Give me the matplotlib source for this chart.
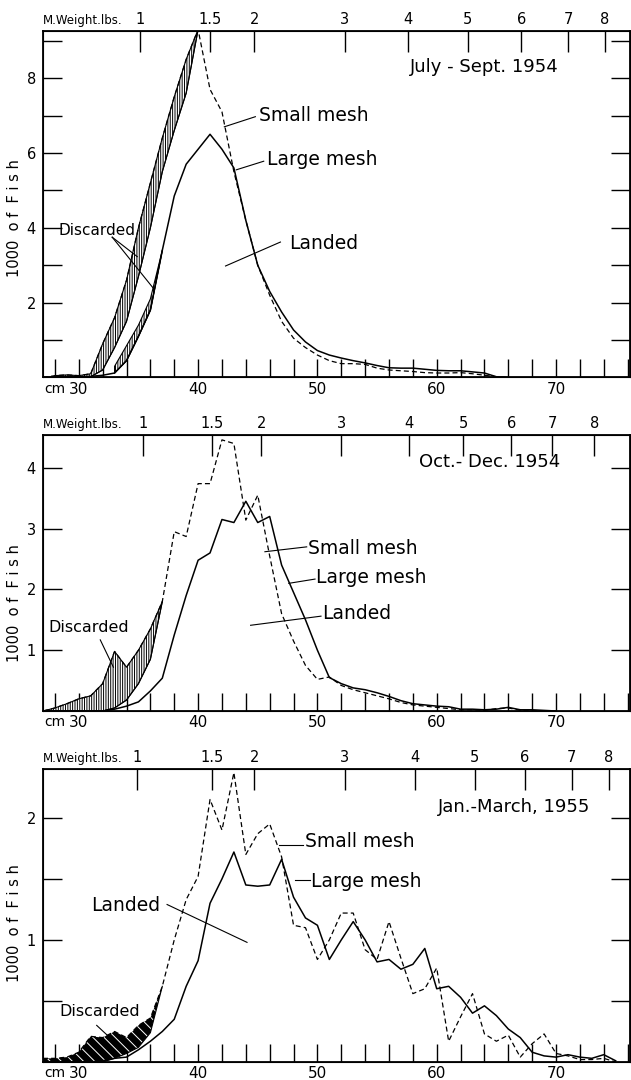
import matplotlib
matplotlib.use("Agg")
import matplotlib.pyplot as plt
import numpy as np

plt.rcParams['font.family'] = ['DejaVu Sans']
plt.rcParams['hatch.linewidth'] = 0.7

# numbers of fish (thousands) per 1 cm length group
# --- July - Sept. 1954 ---
cm1 = np.arange(27, 67)
small1 = [0.0, 0.05, 0.07, 0.05, 0.1, 0.9, 1.6, 2.6, 4.0, 5.2,
          6.4, 7.5, 8.5, 9.3, 7.7, 7.1, 5.5, 4.2, 3.0, 2.2,
          1.5, 1.05, 0.8, 0.6, 0.45, 0.37, 0.37, 0.35, 0.25, 0.2,
          0.18, 0.16, 0.13, 0.12, 0.12, 0.13, 0.1, 0.06, 0.02, 0.0]
large1 = [0.0, 0.02, 0.03, 0.02, 0.03, 0.06, 0.12, 0.45, 1.1, 1.8,
          3.4, 4.85, 5.7, 6.1, 6.5, 6.1, 5.6, 4.2, 3.0, 2.3,
          1.75, 1.27, 0.95, 0.72, 0.6, 0.52, 0.45, 0.39, 0.32, 0.26,
          0.25, 0.25, 0.22, 0.19, 0.18, 0.18, 0.15, 0.12, 0.02, 0.0]
# discarded part of the small mesh catch (band between total and landed)
disc1_cm = np.arange(28, 41)
disc1_top = [0.05, 0.07, 0.05, 0.1, 0.9, 1.6, 2.6, 4.0, 5.2, 6.4, 7.5, 8.5, 9.3]
disc1_bot = [0.0, 0.0, 0.0, 0.02, 0.2, 0.8, 1.5, 2.7, 4.0, 5.5, 6.6, 7.6, 9.3]
# discarded part of the large mesh catch
disc1b_cm = np.arange(33, 38)
disc1b_top = [0.3, 0.85, 1.4, 2.1, 3.4]
disc1b_bot = [0.12, 0.45, 1.1, 1.8, 3.4]

# --- Oct. - Dec. 1954 ---
cm2 = np.arange(27, 71)
small2 = [0.0, 0.05, 0.12, 0.2, 0.25, 0.45, 0.98, 0.72, 1.0, 1.35,
          1.8, 2.95, 2.87, 3.74, 3.74, 4.46, 4.40, 3.14, 3.55, 2.55,
          1.6, 1.15, 0.75, 0.52, 0.56, 0.42, 0.35, 0.3, 0.25, 0.2,
          0.14, 0.1, 0.08, 0.06, 0.04, 0.02, 0.02, 0.01, 0.04, 0.05,
          0.01, 0.0, 0.0, 0.0]
large2 = [0.0, 0.0, 0.0, 0.0, 0.0, 0.0, 0.03, 0.08, 0.15, 0.33,
          0.54, 1.25, 1.9, 2.48, 2.6, 3.15, 3.1, 3.45, 3.1, 3.2,
          2.4, 1.95, 1.5, 1.0, 0.55, 0.45, 0.38, 0.35, 0.3, 0.24,
          0.17, 0.12, 0.1, 0.08, 0.07, 0.03, 0.03, 0.02, 0.03, 0.06,
          0.02, 0.02, 0.01, 0.0]
disc2_cm = np.arange(27, 38)
disc2_top = [0.0, 0.05, 0.12, 0.2, 0.25, 0.45, 0.98, 0.72, 1.0, 1.35, 1.8]
disc2_bot = [0.0, 0.0, 0.0, 0.0, 0.0, 0.0, 0.05, 0.18, 0.45, 0.85, 1.8]

# --- Jan. - March 1955 ---
cm3 = np.arange(27, 76)
small3 = [0.03, 0.03, 0.04, 0.08, 0.21, 0.2, 0.25, 0.2, 0.3, 0.36,
          0.62, 1.0, 1.33, 1.52, 2.15, 1.9, 2.37, 1.70, 1.87, 1.95,
          1.68, 1.12, 1.1, 0.84, 1.0, 1.22, 1.22, 0.92, 0.84, 1.15,
          0.85, 0.56, 0.6, 0.77, 0.17, 0.37, 0.56, 0.23, 0.17, 0.22,
          0.04, 0.15, 0.23, 0.07, 0.05, 0.02, 0.02, 0.03, 0.0]
large3 = [0.0, 0.0, 0.0, 0.0, 0.0, 0.01, 0.03, 0.04, 0.1, 0.17,
          0.25, 0.35, 0.62, 0.83, 1.3, 1.5, 1.72, 1.45, 1.44, 1.45,
          1.66, 1.35, 1.18, 1.12, 0.84, 1.0, 1.15, 1.0, 0.82, 0.84,
          0.76, 0.8, 0.93, 0.6, 0.62, 0.53, 0.4, 0.46, 0.38, 0.27,
          0.2, 0.08, 0.05, 0.04, 0.06, 0.04, 0.03, 0.06, 0.01]
disc3_cm = np.arange(27, 38)
disc3_top = [0.03, 0.03, 0.04, 0.08, 0.21, 0.2, 0.25, 0.2, 0.3, 0.36, 0.62]
disc3_bot = [0.0, 0.0, 0.0, 0.0, 0.0, 0.0, 0.03, 0.07, 0.12, 0.24, 0.62]

# mean weight scale (lbs) along the top, positions in cm as drawn
wt_labels = ['1', '1.5', '2', '3', '4', '5', '6', '7', '8']
wt_pos1 = [35.15, 41.0, 44.7, 52.3, 57.6, 62.6, 67.1, 71.0, 74.1]
wt_pos2 = [35.4, 41.15, 45.3, 52.0, 57.7, 62.2, 66.25, 69.7, 73.2]
wt_pos3 = [34.9, 41.15, 44.7, 52.3, 58.2, 63.2, 67.4, 71.3, 74.4]

W, H = 631, 1080
fig = plt.figure(figsize=(W / 100, H / 100), dpi=100)


def box(top, bot):
    return [43 / W, 1 - bot / H, (630 - 43) / W, (bot - top) / H]


def leader(ax, x1, y1, x2, y2):
    ax.plot([x1, x2], [y1, y2], color='black', lw=0.8, clip_on=False)


panels = [
    dict(box=box(31, 377.5), cm=cm1, small=small1, large=large1, ymax=9.26,
         yticks=[2, 4, 6, 8], yminor=[1, 3, 5, 7, 9], wt=wt_pos1,
         bands=[(disc1_cm, disc1_top, disc1_bot), (disc1b_cm, disc1b_top, disc1b_bot)],
         dark=False, ylab_y=218),
    dict(box=box(435, 711), cm=cm2, small=small2, large=large2, ymax=4.54,
         yticks=[1, 2, 3, 4], yminor=[], wt=wt_pos2,
         bands=[(disc2_cm, disc2_top, disc2_bot)], dark=False, ylab_y=603),
    dict(box=box(769, 1062), cm=cm3, small=small3, large=large3, ymax=2.40,
         yticks=[1, 2], yminor=[0.5, 1.5], wt=wt_pos3,
         bands=[(disc3_cm, disc3_top, disc3_bot)], dark=True, ylab_y=923),
]

axes = []
for p in panels:
    ax = fig.add_axes(p['box'])
    for bcm, btop, bbot in p['bands']:
        if p['dark']:
            ax.fill_between(bcm, bbot, btop, facecolor='black', edgecolor='white',
                            hatch='\\\\\\', linewidth=0, zorder=2)
        else:
            ax.fill_between(bcm, bbot, btop, facecolor='white', edgecolor='black',
                            hatch='|||||||', linewidth=0.8, zorder=2)
        ax.plot(bcm, bbot, color='black', lw=0.8, zorder=3)
    ax.plot(p['cm'], p['large'], color='black', lw=1.1, zorder=4)
    ax.plot(p['cm'], p['small'], color='black', lw=0.9, ls=(0, (4, 2.5)), zorder=4)

    ax.set_xlim(27.0, 76.2)
    ax.set_ylim(0, p['ymax'])
    xt = np.arange(28, 77, 2)
    ax.set_xticks(xt)
    ax.set_xticklabels([str(v) if v % 10 == 0 else '' for v in xt])
    ax.tick_params(axis='x', direction='in', length=13, width=1, pad=3, labelsize=11)
    ax.set_yticks(p['yticks'])
    ax.set_yticklabels([str(v) for v in p['yticks']])
    ax.set_yticks(p['yminor'], minor=True)
    ax.tick_params(axis='y', which='both', direction='in', length=14, width=1,
                   left=True, right=True, labelsize=10.5, pad=5)
    for s in ax.spines.values():
        s.set_linewidth(1.3)

    top = ax.twiny()
    top.set_xlim(ax.get_xlim())
    top.set_xticks(p['wt'])
    top.set_xticklabels(wt_labels)
    top.tick_params(axis='x', direction='in', length=15, width=1, pad=3, labelsize=10.5)

    ax.annotate('cm', xy=(0, 0), xycoords='axes fraction', xytext=(1, -3),
                textcoords='offset points', ha='left', va='top', fontsize=10)
    ax.annotate('M.Weight.lbs.', xy=(0, 1), xycoords='axes fraction', xytext=(0, 3),
                textcoords='offset points', ha='left', va='bottom', fontsize=8.5)
    fig.text(15 / W, 1 - p['ylab_y'] / H, '1000  o f  F i s h', rotation=90,
             ha='center', va='center', fontsize=10.5)
    axes.append(ax)

ax1, ax2, ax3 = axes

# July - Sept. 1954
ax1.text(64.0, 8.3, 'July - Sept. 1954', ha='center', va='center', fontsize=13)
ax1.text(45.1, 6.99, 'Small mesh', ha='left', va='center', fontsize=13.5)
leader(ax1, 42.2, 6.70, 44.8, 6.97)
ax1.text(45.8, 5.82, 'Large mesh', ha='left', va='center', fontsize=13.5)
leader(ax1, 43.2, 5.55, 45.5, 5.78)
ax1.text(47.6, 3.57, 'Landed', ha='left', va='center', fontsize=13.5)
leader(ax1, 42.3, 2.98, 46.9, 3.62)
ax1.text(28.3, 3.93, 'Discarded', ha='left', va='center', fontsize=11)
leader(ax1, 32.8, 3.75, 34.9, 3.23)
leader(ax1, 32.8, 3.75, 36.26, 2.38)

# Oct. - Dec. 1954
ax2.text(64.4, 4.1, 'Oct.- Dec. 1954', ha='center', va='center', fontsize=13)
ax2.text(49.2, 2.68, 'Small mesh', ha='left', va='center', fontsize=13.5)
leader(ax2, 45.6, 2.62, 49.1, 2.70)
ax2.text(49.9, 2.19, 'Large mesh', ha='left', va='center', fontsize=13.5)
leader(ax2, 47.6, 2.10, 49.8, 2.17)
ax2.text(50.4, 1.61, 'Landed', ha='left', va='center', fontsize=13.5)
leader(ax2, 44.4, 1.41, 50.3, 1.56)
ax2.text(27.45, 1.37, 'Discarded', ha='left', va='center', fontsize=11.5)
leader(ax2, 31.8, 1.17, 32.9, 0.72)

# Jan. - March 1955
ax3.text(66.5, 2.09, 'Jan.-March, 1955', ha='center', va='center', fontsize=13)
ax3.text(48.95, 1.81, 'Small mesh', ha='left', va='center', fontsize=13.5)
leader(ax3, 46.8, 1.78, 48.8, 1.78)
ax3.text(49.5, 1.48, 'Large mesh', ha='left', va='center', fontsize=13.5)
leader(ax3, 48.1, 1.49, 49.4, 1.49)
ax3.text(31.0, 1.28, 'Landed', ha='left', va='center', fontsize=13.5)
leader(ax3, 37.4, 1.29, 44.1, 0.98)
ax3.text(28.4, 0.41, 'Discarded', ha='left', va='center', fontsize=11.5)
leader(ax3, 31.5, 0.30, 32.6, 0.20)

fig.savefig('out.png', dpi=100)
